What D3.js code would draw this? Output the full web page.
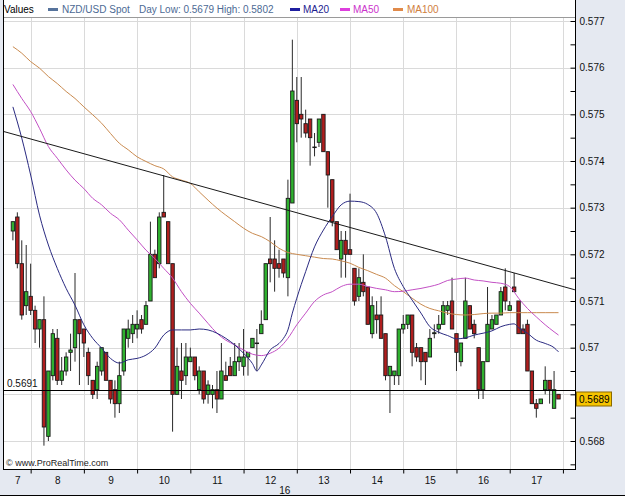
<!DOCTYPE html>
<html><head><meta charset="utf-8">
<script src="https://cdn.jsdelivr.net/npm/d3@7"></script>
<style>
html,body{margin:0;padding:0;background:#e5e9f1;}
svg{display:block;}
text{font-family:"Liberation Sans",Arial,sans-serif;}
</style></head><body>
<svg id="c" width="625" height="499"></svg>
<script>
// ---------- data ----------
const dayLabels = ["7","8","9","10","11","12","13","14","15","16","17"];
const dayLabelIdx = [1,10,22,34,46,58,70,82,94,106,118];
const dayBoundaryIdx = [4,16,28,40,52,64,76,88,100,112,124];
const yGrid = [0.568,0.569,0.570,0.571,0.572,0.573,0.574,0.575,0.576,0.577];
const yLabelVals = [0.568,0.570,0.571,0.572,0.573,0.574,0.575,0.576,0.577];
const yLabelTexts = ["0.568","0.57","0.571","0.572","0.573","0.574","0.575","0.576","0.577"];
const yMinor = [0.5675,0.5685,0.5695,0.5705,0.5715,0.5725,0.5735,0.5745,0.5755,0.5765];

const opens = [0.5725,0.5728,0.5718,0.5709,0.5711,0.5708,0.5704,0.5706,0.5681,0.5694,
0.5702,0.5693,0.5695,0.5699,0.5700,0.5706,0.5704,0.5699,0.5693,0.5691,
0.5695,0.5699,0.5693,0.5691,0.5688,0.5695,0.5702,0.5703,0.5704,0.5706,
0.5705,0.5710,0.5720,0.5718,0.5729,0.5727,0.5718,0.5690,0.5695,0.5694,
0.5697,0.5698,0.5691,0.5695,0.5690,0.5690,0.5691,0.5689,0.5694,0.5696,
0.5694,0.5697,0.5696,0.5698,0.5700,0.5701,0.5703,0.5706,0.5719,0.5719,
0.5718,0.5719,0.5715,0.5731,0.5753,0.5750,0.5748,0.5749,0.5743,0.5744,
0.5750,0.5742,0.5736,0.5727,0.5719,0.5723,0.5721,0.5717,0.5711,0.5714,
0.5713,0.5703,0.5707,0.5707,0.5703,0.5694,0.5694,0.5694,0.5704,0.5705,
0.5707,0.5700,0.5700,0.5699,0.5698,0.5703,0.5704,0.5705,0.5708,0.5710,
0.5703,0.5697,0.5702,0.5709,0.5705,0.5700,0.5691,0.5697,0.5704,0.5705,
0.5707,0.5713,0.5708,0.5713,0.5710,0.5704,0.5705,0.5695,0.5688,0.5688,
0.5691,0.5693,0.5687,0.5690];
const highs = [0.5727,0.5729,0.5723,0.5722,0.5718,0.5709,0.5706,0.5711,0.5695,0.5704,
0.5704,0.5698,0.5699,0.5703,0.5716,0.5706,0.5704,0.5700,0.5693,0.5697,
0.5700,0.5699,0.5693,0.5693,0.5697,0.5704,0.5706,0.5707,0.5708,0.5707,
0.5710,0.5727,0.5721,0.5729,0.5737,0.5727,0.5718,0.5700,0.5701,0.5701,
0.5700,0.5698,0.5696,0.5695,0.5693,0.5692,0.5695,0.5701,0.5697,0.5698,
0.5701,0.5701,0.5704,0.5699,0.5702,0.5704,0.5708,0.5718,0.5728,0.5723,
0.5721,0.5719,0.5736,0.5766,0.5758,0.5758,0.5751,0.5749,0.5746,0.5749,
0.5750,0.5742,0.5736,0.5727,0.5725,0.5725,0.5733,0.5717,0.5717,0.5720,
0.5713,0.5711,0.5710,0.5711,0.5703,0.5696,0.5695,0.5704,0.5707,0.5707,
0.5707,0.5701,0.5700,0.5699,0.5704,0.5705,0.5707,0.5710,0.5710,0.5715,
0.5703,0.5701,0.5715,0.5709,0.5706,0.5700,0.5697,0.5713,0.5707,0.5707,
0.5713,0.5717,0.5710,0.5716,0.5710,0.5705,0.5706,0.5695,0.5689,0.5689,
0.5696,0.5693,0.5695,0.5690];
const lows = [0.5723,0.5717,0.5706,0.5707,0.5707,0.5701,0.5700,0.5679,0.5680,0.5693,
0.5692,0.5692,0.5694,0.5695,0.5697,0.5692,0.5698,0.5692,0.5689,0.5689,
0.5694,0.5693,0.5688,0.5685,0.5686,0.5694,0.5700,0.5701,0.5702,0.5703,
0.5705,0.5710,0.5715,0.5717,0.5728,0.5718,0.5682,0.5690,0.5689,0.5692,
0.5697,0.5693,0.5690,0.5688,0.5688,0.5687,0.5686,0.5689,0.5693,0.5694,
0.5694,0.5695,0.5694,0.5694,0.5700,0.5695,0.5703,0.5706,0.5714,0.5712,
0.5715,0.5715,0.5711,0.5731,0.5744,0.5745,0.5745,0.5739,0.5741,0.5743,
0.5742,0.5730,0.5726,0.5721,0.5715,0.5715,0.5720,0.5709,0.5710,0.5711,
0.5705,0.5702,0.5703,0.5702,0.5693,0.5686,0.5692,0.5692,0.5703,0.5704,
0.5696,0.5697,0.5693,0.5692,0.5698,0.5702,0.5703,0.5705,0.5707,0.5704,
0.5695,0.5696,0.5702,0.5704,0.5702,0.5689,0.5689,0.5697,0.5704,0.5705,
0.5707,0.5708,0.5708,0.5712,0.5703,0.5703,0.5695,0.5688,0.5685,0.5688,
0.5690,0.5688,0.5687,0.5689];
const closes = [0.5727,0.5718,0.5707,0.5712,0.5708,0.5704,0.5706,0.5683,0.5695,0.5703,
0.5693,0.5695,0.5698,0.56995,0.5706,0.5703,0.5701,0.5694,0.5690,0.5696,
0.5700,0.5693,0.5689,0.5688,0.5694,0.5704,0.5704,0.5705,0.5705,0.5704,
0.5709,0.5720,0.5715,0.5728,0.5728,0.5718,0.5690,0.5696,0.5693,0.5698,
0.5698,0.5694,0.5695,0.5689,0.5692,0.5691,0.5689,0.5695,0.5693,0.5694,
0.5697,0.5698,0.5698,0.5699,0.5702,0.5701,0.5705,0.5718,0.5718,0.5717,
0.5717,0.5716,0.5732,0.5755,0.5748,0.5749,0.5746,0.5745,0.5743,0.5749,
0.5742,0.5737,0.5727,0.5721,0.5723,0.5720,0.5720,0.5710,0.5715,0.5712,
0.5705,0.5709,0.5706,0.5702,0.5694,0.5696,0.5695,0.5704,0.5705,0.5707,
0.5699,0.5698,0.5697,0.5697,0.5702,0.57032,0.5705,0.5709,0.5709,0.5704,
0.5699,0.5701,0.5710,0.5704,0.5703,0.5691,0.5697,0.5705,0.5706,0.5707,
0.5712,0.5710,0.5709,0.5712,0.5703,0.5703,0.5695,0.5688,0.5687,0.5689,
0.5693,0.5691,0.5691,0.5689];

const ma20Idx = [0,2,4,6,8,10,12,14,16,18,20,22,24,26,28,30,32,34,36,38,40,42,44,46,48,50,52,54,
55,56,58,60,61,62,63,64,66,68,70,72,74,76,78,80,82,84,86,88,90,92,94,96,98,100,102,104,106,108,110,112,
113,114,116,118,120,122,123];
const ma20Val = [0.57516,0.57449,0.57370,0.57284,0.57220,0.57170,0.57127,0.57091,0.57049,0.57020,
0.56999,0.56977,0.56967,0.56974,0.56977,0.56984,0.56999,0.57027,0.57038,0.57038,
0.57038,0.57040,0.57038,0.57031,0.57020,0.57006,0.56988,0.56966,
0.56950,0.56963,0.56995,0.57009,0.57020,0.57038,0.57074,0.57106,
0.57163,0.57216,0.57252,0.57281,0.57306,0.57314,0.57313,0.57307,0.57288,0.57238,
0.57170,0.57131,0.57102,0.57074,0.57045,0.57033,0.57026,0.57019,0.57021,0.57027,
0.57031,0.57036,0.57045,0.57050,
0.57051,0.57043,0.57031,0.57016,0.57009,0.57000,0.56991];
const maIdx = [0,2,4,6,8,10,12,14,16,18,20,22,24,26,28,30,32,34,36,38,40,42,44,46,48,50,52,54,56,58,
60,62,64,66,68,70,72,74,76,78,80,82,84,86,88,90,92,94,96,98,100,102,104,106,108,110,112,114,116,118,
120,122,123];
const ma50Val = [0.57564,0.57534,0.57506,0.57470,0.57431,0.57406,0.57381,0.57359,0.57341,0.57320,
0.57306,0.57288,0.57274,0.57252,0.57231,0.57209,0.57191,0.57170,0.57149,0.57120,
0.57095,0.57074,0.57052,0.57031,0.57016,0.57006,0.56995,0.56986,0.56983,0.56988,
0.56999,0.57020,0.57049,0.57074,0.57099,0.57113,0.57120,0.57131,0.57136,0.57136,
0.57131,0.57127,0.57124,0.57120,0.57121,0.57124,0.57127,0.57131,0.57136,0.57144,
0.57147,0.57149,0.57145,0.57143,0.57140,0.57138,0.57131,0.57106,0.57084,0.57066,
0.57049,0.57034,0.57027];
const ma100Val = [0.57645,0.57631,0.57613,0.57599,0.57581,0.57566,0.57549,0.57534,0.57516,0.57499,
0.57481,0.57459,0.57438,0.57424,0.57409,0.57399,0.57390,0.57383,0.57366,0.57359,
0.57352,0.57334,0.57316,0.57299,0.57284,0.57270,0.57256,0.57245,0.57238,0.57227,
0.57213,0.57204,0.57200,0.57197,0.57194,0.57191,0.57190,0.57186,0.57181,0.57172,
0.57165,0.57157,0.57149,0.57133,0.57120,0.57106,0.57093,0.57084,0.57079,0.57074,
0.57071,0.57070,0.57071,0.57073,0.57074,0.57074,0.57075,0.57075,0.57075,0.57075,
0.57075,0.57075,0.57075];

const trendIdx = [-2, 126.7];
const trendVal = [0.57463, 0.57124];
const supportLevel = 0.5691;
const supportText = "0.5691";
const lastPrice = 0.5689;
const lastPriceText = "0.5689";
const yearLabel = "16";
const yearLabelIdx = 61.3;

// ---------- layout ----------
const L = 3, R = 575.5, T = 17, B = 469.5;
const svg = d3.select("#c");
const x = d3.scaleLinear().domain([0, 123]).range([12.9, 558.5]);
const y = d3.scaleLinear().domain([0.568, 0.577]).range([441, 21]);

// plot background
svg.append("rect").attr("x", L).attr("y", 0).attr("width", R - L).attr("height", B).attr("fill", "#fff");
svg.append("defs").append("clipPath").attr("id", "clip")
  .append("rect").attr("x", L).attr("y", T).attr("width", R - L).attr("height", B - T);

// gridlines
const grid = svg.append("g").attr("stroke", "#dadada").attr("stroke-width", 1);
grid.selectAll("line.h").data(yGrid).join("line")
  .attr("x1", L).attr("x2", R).attr("y1", d => Math.round(y(d)) + 0.5).attr("y2", d => Math.round(y(d)) + 0.5);
grid.selectAll("line.v").data(dayBoundaryIdx).join("line")
  .attr("y1", T).attr("y2", B).attr("x1", d => Math.round(x(d)) + 0.5).attr("x2", d => Math.round(x(d)) + 0.5);

const plot = svg.append("g").attr("clip-path", "url(#clip)");

// candles
const candles = opens.map((o, i) => ({i, o, h: highs[i], l: lows[i], c: closes[i]}));
plot.append("g").selectAll("line").data(candles).join("line")
  .attr("x1", d => x(d.i)).attr("x2", d => x(d.i))
  .attr("y1", d => y(d.h)).attr("y2", d => y(d.l))
  .attr("stroke", "#2a2a2a").attr("stroke-width", 1);
const bw = 3.4;
plot.append("g").selectAll("rect").data(candles).join("rect")
  .attr("x", d => x(d.i) - bw / 2)
  .attr("y", d => y(Math.max(d.o, d.c)))
  .attr("width", bw)
  .attr("height", d => Math.max(0.6, Math.abs(y(d.o) - y(d.c))))
  .attr("fill", d => d.c >= d.o ? "#2fb12f" : "#b01e1e")
  .attr("stroke", "#1a1a1a").attr("stroke-width", 0.9);

// moving averages
const maLine = d3.line().x(d => x(d[0])).y(d => y(d[1])).curve(d3.curveMonotoneX);
const mas = [
  {idx: maIdx, val: ma100Val, color: "#c98a4f"},
  {idx: maIdx, val: ma50Val, color: "#c250c4"},
  {idx: ma20Idx, val: ma20Val, color: "#2a2a80"}
];
mas.forEach(m => {
  plot.append("path").datum(m.idx.map((k, j) => [k, m.val[j]]))
    .attr("d", maLine).attr("fill", "none").attr("stroke", m.color).attr("stroke-width", 1);
});

// trendline
plot.append("path").datum(trendIdx.map((k, j) => [k, trendVal[j]]))
  .attr("d", d3.line().x(d => x(d[0])).y(d => y(d[1])))
  .attr("stroke", "#1a1a1a").attr("stroke-width", 1).attr("fill", "none");

// support line
plot.append("line").attr("x1", L).attr("x2", R)
  .attr("y1", Math.round(y(supportLevel)) + 0.5).attr("y2", Math.round(y(supportLevel)) + 0.5)
  .attr("stroke", "#000").attr("stroke-width", 1);
svg.append("text").attr("x", 7).attr("y", y(supportLevel) - 3).attr("font-size", 10).attr("fill", "#111").text(supportText);

// copyright
svg.append("text").attr("x", 6).attr("y", 466).attr("font-size", 9).attr("fill", "#222").text("\u00a9 www.ProRealTime.com");

// legend row
svg.append("line").attr("x1", L).attr("x2", R).attr("y1", T + 0.5).attr("y2", T + 0.5).attr("stroke", "#9a9a9a");
const leg = svg.append("g").attr("font-size", 10);
leg.append("text").attr("x", 4).attr("y", 13).attr("fill", "#000").text("Values");
const legendItems = [
  {dx: 48, tx: 62, color: "#56739c", tcolor: "#4d6a94", label: "NZD/USD Spot"},
  {dx: 290, tx: 303, color: "#1f1fa0", tcolor: "#1d1d8f", label: "MA20"},
  {dx: 340, tx: 353, color: "#dd3fdd", tcolor: "#cc33cc", label: "MA50"},
  {dx: 393, tx: 407, color: "#e08a4a", tcolor: "#d08040", label: "MA100"}
];
legendItems.forEach(it => {
  leg.append("rect").attr("x", it.dx).attr("y", 8).attr("width", 10).attr("height", 3).attr("fill", it.color);
  leg.append("text").attr("x", it.tx).attr("y", 13).attr("fill", it.tcolor).text(it.label);
});
leg.append("text").attr("x", 139).attr("y", 13).attr("fill", "#4d6a94").text("Day Low: 0.5679 High: 0.5802");

// frame
svg.append("line").attr("x1", L + 0.5).attr("x2", L + 0.5).attr("y1", 0).attr("y2", B).attr("stroke", "#000");
svg.append("line").attr("x1", R).attr("x2", R).attr("y1", 0).attr("y2", B + 0.5).attr("stroke", "#000");
svg.append("line").attr("x1", L).attr("x2", R).attr("y1", B).attr("y2", B).attr("stroke", "#000");

// right axis
const ya = svg.append("g").attr("transform", `translate(${R},0)`)
  .call(d3.axisRight(y).tickValues(yLabelVals).tickSize(-5).tickPadding(4).tickFormat((d, i) => yLabelTexts[i]));
ya.append("g").call(d3.axisRight(y).tickValues(yMinor.concat([0.569])).tickSize(-5).tickFormat(""));
ya.selectAll(".domain").remove();
ya.selectAll("text").attr("font-family", "Liberation Sans, Arial, sans-serif").attr("font-size", 10).attr("fill", "#111");
ya.selectAll("line").attr("stroke", "#000");

// bottom axis
const xa = svg.append("g").attr("transform", `translate(0,${B})`)
  .call(d3.axisBottom(x).tickValues(dayBoundaryIdx).tickSize(4).tickFormat(""));
const xl = svg.append("g").attr("transform", `translate(0,${B})`)
  .call(d3.axisBottom(x).tickValues(dayLabelIdx).tickSize(0).tickPadding(7).tickFormat((d, i) => dayLabels[i]));
svg.selectAll(".domain").remove();
xa.selectAll("line").attr("stroke", "#000");
xl.selectAll("text").attr("font-family", "Liberation Sans, Arial, sans-serif").attr("font-size", 10).attr("fill", "#111");

svg.append("text").attr("x", x(yearLabelIdx)).attr("y", 494).attr("text-anchor", "middle")
  .attr("font-size", 10).attr("fill", "#111").text(yearLabel);

// bottom panel edge
svg.append("rect").attr("x", 0).attr("y", 496).attr("width", 625).attr("height", 3).attr("fill", "#fff");
svg.append("line").attr("x1", 0).attr("x2", 625).attr("y1", 495.5).attr("y2", 495.5).attr("stroke", "#000");

// last price tag
const py = y(lastPrice);
svg.append("rect").attr("x", 576.5).attr("y", py - 7).attr("width", 35).attr("height", 14)
  .attr("fill", "#f6c400").attr("stroke", "#8a6a00").attr("stroke-width", 1);
svg.append("text").attr("x", 579).attr("y", py + 4).attr("font-size", 10).attr("fill", "#000").text(lastPriceText);
</script>
</body></html>
